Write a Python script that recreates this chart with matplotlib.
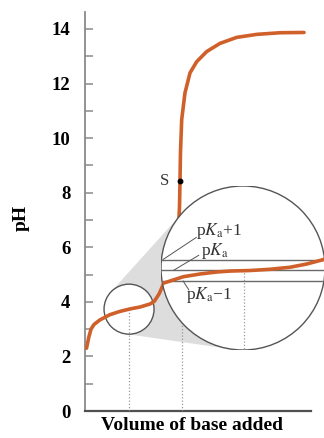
import numpy as np
import matplotlib
matplotlib.use("Agg")
from matplotlib import pyplot as plt
from matplotlib.patches import Circle, Polygon
from matplotlib.transforms import IdentityTransform

plt.rcParams['font.family'] = ['Liberation Serif', 'DejaVu Serif']
plt.rcParams['mathtext.fontset'] = 'stix'

# titration curve: volume of base (mL) vs pH
volume = [0.53, 1.13, 1.72, 2.52, 4.11, 6.75, 9.40, 12.05, 14.70, 17.35, 18.50,
          19.80, 20.80, 22.00, 23.97, 24.77, 25.17, 25.30, 25.43, 25.75, 26.62,
          27.95, 29.72, 32.37, 35.89, 40.32, 45.62, 51.79, 58.15]
ph = [2.30, 2.70, 3.00, 3.17, 3.34, 3.53, 3.65, 3.74, 3.81, 3.92, 4.02,
      4.30, 4.62, 5.00, 5.60, 6.30, 7.50, 8.44, 9.50, 10.68, 11.66,
      12.39, 12.80, 13.17, 13.47, 13.69, 13.80, 13.86, 13.87]

v_half = 11.8      # centre of the small circle (half-way point)
v_eq = 25.7        # dotted line near equivalence
v_s, ph_s = 25.30, 8.44   # point S
pka = 3.74

# magnified view: relative position across the circle, pH - pKa
inset_x = [-1.0, -0.976, -0.728, -0.524, -0.32, -0.159, 0.085, 0.33, 0.573, 0.777, 0.96, 1.0]
inset_dph = [-1.32, -1.27, -0.64, -0.38, -0.19, -0.10, -0.05, 0.07, 0.26, 0.57, 0.95, 1.05]

orange = '#d0602a'
W, H = 324, 438

fig = plt.figure(figsize=(W / 100, H / 100), dpi=100)
ax = fig.add_axes([84.5 / W, (H - 411) / H, (311 - 84.5) / W, (411 - 12) / H])
ax.set_xlim(0, 60)
ax.set_ylim(0, 14.62)

for s in ['top', 'right']:
    ax.spines[s].set_visible(False)
ax.spines['left'].set_color('#8a8a8a')
ax.spines['left'].set_linewidth(1.3)
ax.spines['bottom'].set_color('#505050')
ax.spines['bottom'].set_linewidth(1.6)

ax.set_xticks([])
ax.set_yticks(np.arange(0, 15, 2))
ax.set_yticks(np.arange(1, 14, 2), minor=True)
ax.tick_params(axis='y', which='both', direction='in', length=6, width=1.1,
               color='#8a8a8a', pad=10)
ax.tick_params(axis='y', which='major', labelsize=13.5)
for lab in ax.get_yticklabels():
    lab.set_fontweight('bold')

ax.set_ylabel('pH', fontsize=14, fontweight='bold')
ax.yaxis.set_label_coords(-0.24, 0.484)
ax.set_xlabel('Volume of base added', fontsize=14, fontweight='bold')
ax.xaxis.set_label_coords(0.475, -0.015)
ax.xaxis.label.set_va('top')

ax.plot(volume, ph, color=orange, lw=2.6, solid_capstyle='round', zorder=4)

# dotted guide lines down to the axis
ph_half = np.interp(v_half, volume, ph)
ax.plot([v_half, v_half], [0, ph_half], color='#9a9a9a', lw=0.9,
        ls=(0, (1, 1.6)), zorder=3)
ax.plot([v_eq, v_eq], [0, 6], color='#9a9a9a', lw=0.9, ls=(0, (1, 1.6)), zorder=3)

# point S
ax.plot([v_s], [ph_s], 'o', color='black', ms=3.2, zorder=5)
ax.text(v_s - 4.2, ph_s, 'S', fontsize=12, ha='center', va='center', color='#333333')

# magnified circle as an inset axes
cx, cy, r2 = 243, 268, 82
axin = fig.add_axes([(cx - r2) / W, (H - cy - r2) / H, 2 * r2 / W, 2 * r2 / H])
axin.set_xlim(-1, 1)
axin.set_ylim(pka - 80 / 10.5, pka + 84 / 10.5)
axin.axis('off')
big = Circle((0.5, 0.5), 0.5, transform=axin.transAxes, fc='white',
             ec='#555555', lw=1.0, zorder=0)
axin.add_patch(big)

for off in [1, 0, -1]:
    ln = axin.axhline(pka + off, color='#6a6a6a', lw=1.0, zorder=1)
    ln.set_clip_path(big)
ln = axin.plot(inset_x, [pka + d for d in inset_dph], color=orange, lw=2.6, zorder=2)[0]
ln.set_clip_path(big)
dot_top = np.interp(0.0, inset_x, inset_dph) + pka
ln = axin.plot([0.01, 0.01], [pka - 9, dot_top], color='#9a9a9a', lw=0.9,
               ls=(0, (1, 1.6)), zorder=1)[0]
ln.set_clip_path(big)

lab_kw = dict(fontsize=12.5, color='#333333', va='baseline', ha='left')
axin.text(-0.57, pka + 3.33, 'p$K_{\\rm a}$+1', **lab_kw)
axin.text(-0.51, pka + 1.43, 'p$K_{\\rm a}$', **lab_kw)
axin.text(-0.70, pka - 2.8, 'p$K_{\\rm a}$\u22121', **lab_kw)
axin.plot([-0.57, -0.975], [pka + 3.1, pka + 1.0], color='#555555', lw=0.7)
axin.plot([-0.54, -0.84], [pka + 1.4, pka + 0.0], color='#555555', lw=0.7)
axin.plot([-0.66, -0.73], [pka - 1.9, pka - 1.05], color='#555555', lw=0.7)

# small circle and the grey cone joining it to the big circle
c1 = ax.transData.transform((v_half, ph_half))
r1 = 25
c2 = axin.transAxes.transform((0.5, 0.5))
rb = axin.bbox.width / 2
d = c2 - c1
D = np.hypot(*d)
u = d / D
up = np.array([-u[1], u[0]])
cos_t = (rb - r1) / D
sin_t = np.sqrt(1 - cos_t ** 2)
pts = []
for sgn in [1, -1]:
    n = cos_t * u + sgn * sin_t * up
    pts.append((c1 - r1 * n, c2 - rb * n))
poly = [pts[0][0], pts[0][1], c2, pts[1][1], pts[1][0], c1]
ax.add_patch(Polygon(poly, closed=True, transform=IdentityTransform(),
                     fc='#dddddd', ec='none', zorder=1, clip_on=False))
ax.add_patch(Circle(c1, r1, transform=IdentityTransform(), fc='white',
                    ec='#555555', lw=1.0, zorder=2, clip_on=False))

fig.savefig('out.png', dpi=100, facecolor='white')
